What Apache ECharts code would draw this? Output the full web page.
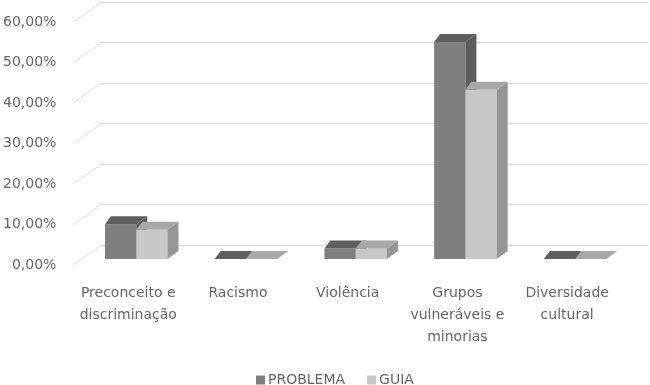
<!DOCTYPE html>
<html>
<head>
<meta charset="utf-8">
<script src="https://cdn.jsdelivr.net/npm/echarts@6/dist/echarts.min.js"></script>
<style>html,body{margin:0;padding:0;background:#fff}#c{width:650px;height:385px}</style>
</head>
<body>
<div id="c"></div>
<script>
var categories = ['Preconceito e\ndiscriminação', 'Racismo', 'Violência', 'Grupos\nvulneráveis e\nminorias', 'Diversidade\ncultural'];
var problema = [0.086, 0.0, 0.026, 0.536, 0.0];
var guia = [0.072, 0.0, 0.026, 0.418, 0.0];
var yTicks = [0, 0.1, 0.2, 0.3, 0.4, 0.5, 0.6];

var FONT = 'DejaVu Sans';
var TXT = '#666666';
var DEPTH_X = 28, DEPTH_Y = 20;
var GRID_C = '#dcdcdc';

function fmt(v) { return (v * 100).toFixed(2).replace('.', ',') + '%'; }

function barRender(seriesIdx, front, top, side) {
  return function (params, api) {
    var i = api.value(0), v = api.value(1);
    var base = api.coord([i, 0]);
    var topP = api.coord([i, v]);
    var catW = api.size([1, 0])[0];
    var bw = catW * 0.285;
    var shiftX = 8, shiftY = -6;
    var x0 = base[0] + shiftX - bw + bw * seriesIdx;
    var x1 = x0 + bw;
    var yb = base[1] + shiftY;
    var yt = topP[1] + shiftY;
    var dxL = 6, dxR = 11, dy = -8;
    var children = [];
    if (yb - yt > 0.5) {
      children.push({ type: 'rect', shape: { x: x0, y: yt, width: bw, height: yb - yt }, style: { fill: front } });
    }
    children.push({ type: 'polygon', shape: { points: [[x1, yt], [x1 + dxR, yt + dy], [x1 + dxR, yb + dy], [x1, yb]] }, style: { fill: side } });
    children.push({ type: 'polygon', shape: { points: [[x0, yt], [x1, yt], [x1 + dxR, yt + dy], [x0 + dxL, yt + dy]] }, style: { fill: top } });
    return { type: 'group', children: children };
  };
}

var chart = echarts.init(document.getElementById('c'), null, { renderer: 'canvas' });
chart.setOption({
  animation: false,
  backgroundColor: '#fff',
  textStyle: { fontFamily: FONT },
  grid: [
    { left: 72, right: 28, top: 22, bottom: 120, containLabel: false },
    { left: 100, right: 2, top: 2, bottom: 140, containLabel: false }
  ],
  legend: {
    data: ['PROBLEMA', 'GUIA'],
    left: 251, top: 368,
    itemWidth: 9, itemHeight: 9, itemGap: 22,
    icon: 'rect',
    textStyle: { fontFamily: FONT, fontSize: 14, color: TXT, padding: [0, 0, 0, -2] }
  },
  xAxis: [
    {
      type: 'category', gridIndex: 0, data: categories,
      axisLine: { show: false }, axisTick: { show: false }, splitLine: { show: false },
      axisLabel: { interval: 0, margin: 17, fontFamily: FONT, fontSize: 14, color: TXT, lineHeight: 22 }
    },
    {
      type: 'category', gridIndex: 1, data: categories,
      axisLine: { show: false }, axisTick: { show: false }, axisLabel: { show: false }, splitLine: { show: false }
    }
  ],
  yAxis: [
    {
      type: 'value', gridIndex: 0, min: 0, max: 0.6, interval: 0.1,
      axisLine: { show: false }, axisTick: { show: false }, splitLine: { show: false },
      axisLabel: { formatter: fmt, margin: 17, fontFamily: FONT, fontSize: 14, color: TXT }
    },
    {
      type: 'value', gridIndex: 1, min: 0, max: 0.6, interval: 0.1,
      axisLine: { show: false }, axisTick: { show: false }, axisLabel: { show: false },
      splitLine: { show: true, lineStyle: { color: GRID_C, width: 1 } }
    }
  ],
  series: [
    {
      type: 'custom', name: 'diag', xAxisIndex: 0, yAxisIndex: 0, silent: true, clip: false,
      data: yTicks.map(function (t) { return [0, t]; }),
      renderItem: function (params, api) {
        var p = api.coord([0, api.value(1)]);
        var x = params.coordSys.x;
        return { type: 'line', shape: { x1: x, y1: p[1], x2: x + DEPTH_X, y2: p[1] - DEPTH_Y }, style: { stroke: GRID_C, lineWidth: 1 } };
      }
    },
    {
      type: 'custom', name: 'PROBLEMA', xAxisIndex: 0, yAxisIndex: 0, clip: false,
      itemStyle: { color: '#7f7f7f' },
      data: categories.map(function (c, i) { return [i, problema[i]]; }),
      renderItem: barRender(0, '#7f7f7f', '#5f5f5f', '#5c5c5c')
    },
    {
      type: 'custom', name: 'GUIA', xAxisIndex: 0, yAxisIndex: 0, clip: false,
      itemStyle: { color: '#c8c8c8' },
      data: categories.map(function (c, i) { return [i, guia[i]]; }),
      renderItem: barRender(1, '#c8c8c8', '#a8a8a8', '#969696')
    }
  ]
});
</script>
</body>
</html>
